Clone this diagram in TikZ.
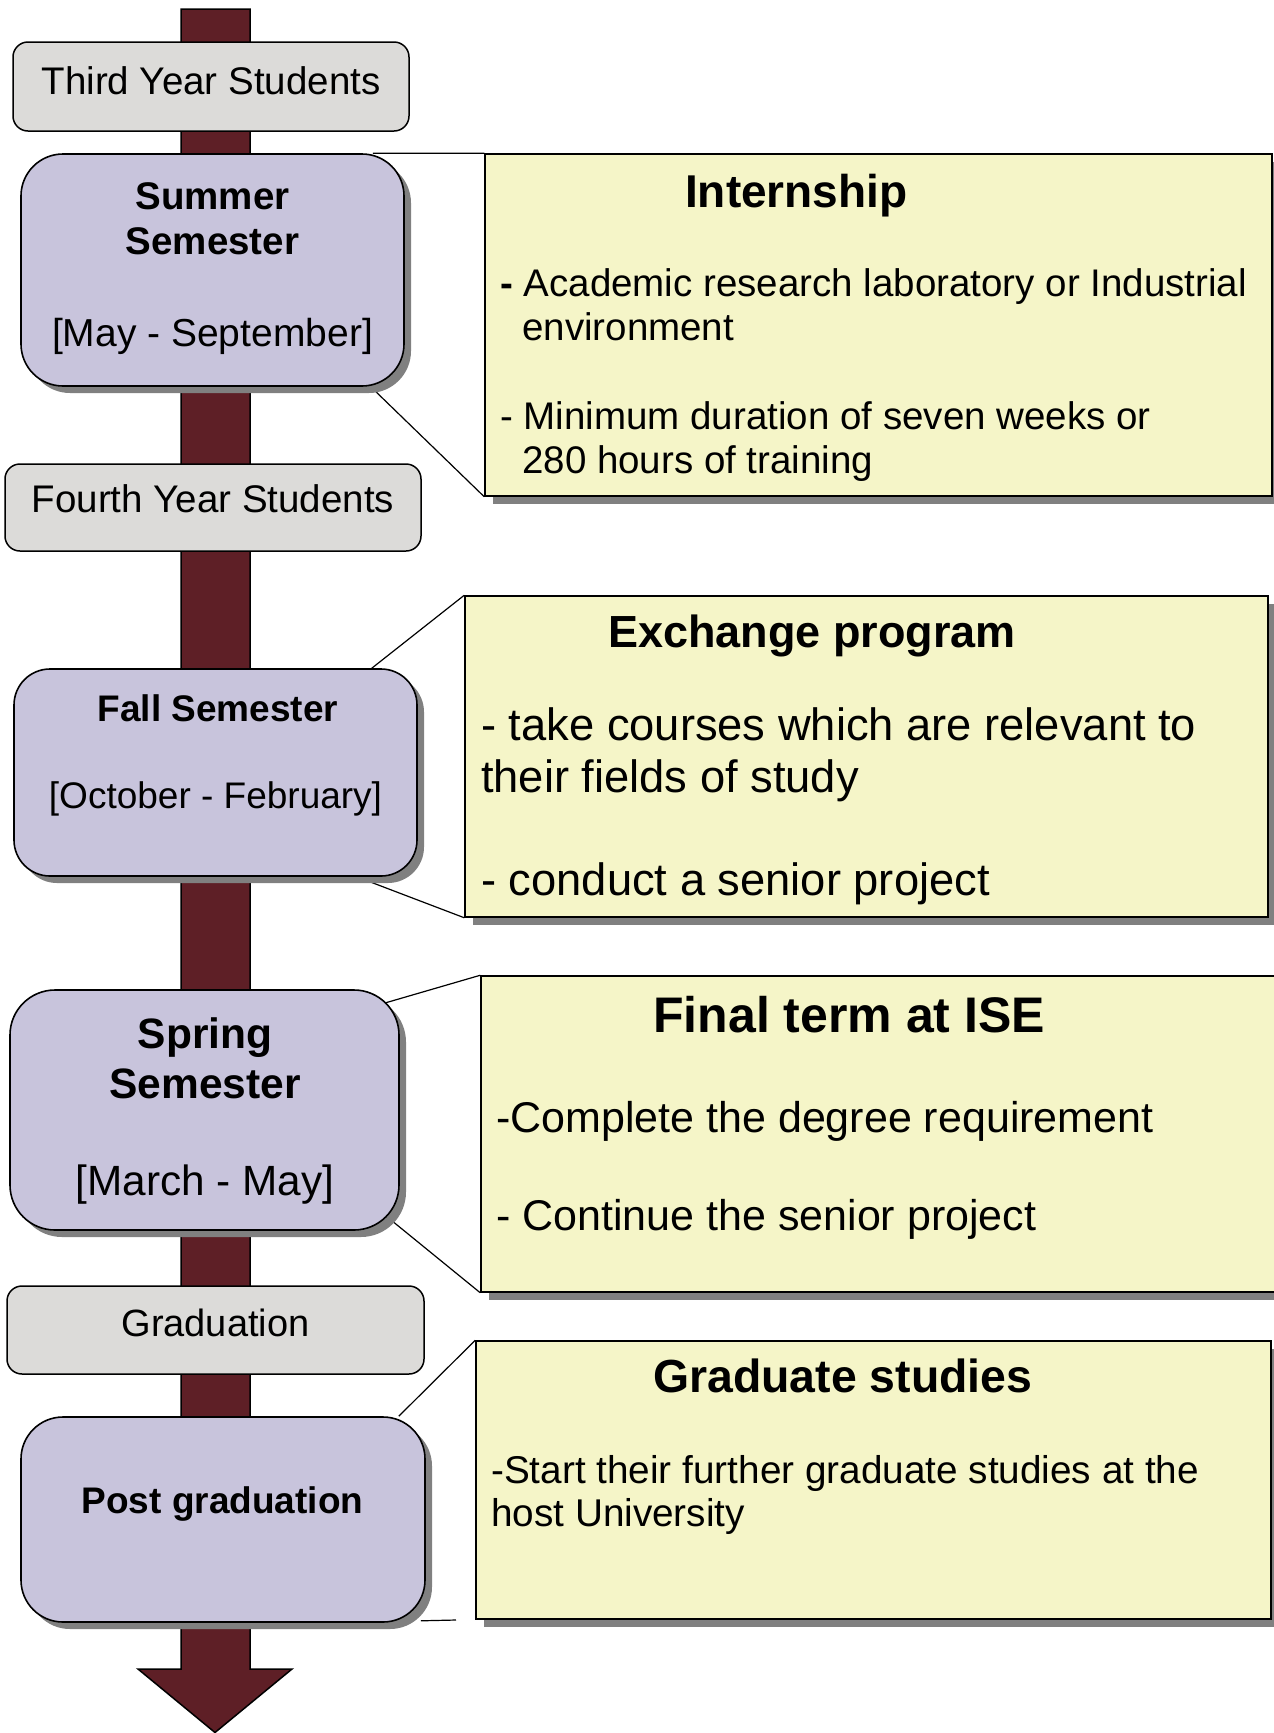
\documentclass[tikz,border=0pt]{standalone}
\usepackage{fontspec}
\setmainfont{Liberation Sans}
\usetikzlibrary{shadows,calc}
\pgfdeclarelayer{background}
\pgfsetlayers{background,main}
\definecolor{shaftred}{RGB}{94,31,38}
\definecolor{boxgray}{RGB}{220,219,217}
\definecolor{boxpurple}{RGB}{200,196,220}
\definecolor{boxyellow}{RGB}{245,245,200}
\definecolor{shadowgray}{RGB}{128,128,128}
\newcommand{\myfs}[1]{\fontsize{#1pt}{#1pt}\selectfont}
\begin{document}
\begin{tikzpicture}[x=1pt,y=-1pt,
  graybox/.style={draw=black, line width=1.5pt, fill=boxgray, rounded corners=15pt, inner sep=0pt},
  semboxstyle/.style={draw=black, line width=1.6pt, fill=boxpurple, rounded corners=#1, inner sep=0pt,
     drop shadow={shadow xshift=7pt, shadow yshift=-7pt, fill=shadowgray, opacity=1}},
  semboxstyle/.default=42pt,
  notebox/.style={draw=black, line width=1.5pt, fill=boxyellow, inner sep=0pt,
     drop shadow={shadow xshift=8pt, shadow yshift=-8pt, fill=shadowgray, opacity=1}},
  conn/.style={draw=black, line width=1.2pt},
  shaftstyle/.style={draw=black, line width=1.5pt, fill=shaftred},
  lbl/.style={inner sep=0pt, text=black}
]
\useasboundingbox (0,0) rectangle (1274,1733);

% ---- left column boxes ----
\node[graybox, minimum width=396pt, minimum height=89pt] (third) at (211,86.5) {};
\node[semboxstyle=42pt, minimum width=383pt, minimum height=232pt] (summer) at (212.5,270) {};
\node[graybox, minimum width=416pt, minimum height=87pt] (fourth) at (213,507.5) {};
\node[semboxstyle=36pt, minimum width=403pt, minimum height=207pt] (fall) at (215.5,772.5) {};
\node[semboxstyle=45pt, minimum width=389pt, minimum height=240pt] (spring) at (204.5,1110) {};
\node[graybox, minimum width=417pt, minimum height=88pt] (grad) at (215.5,1330) {};
\node[semboxstyle=42pt, minimum width=404pt, minimum height=205pt] (postgrad) at (223,1519.5) {};

% ---- right column boxes ----
\node[notebox, minimum width=787pt, minimum height=342pt] (intern) at (878.5,325) {};
\node[notebox, minimum width=803pt, minimum height=321pt] (exchange) at (866.5,756.5) {};
\node[notebox, minimum width=796pt, minimum height=316pt] (final) at (879,1134) {};
\node[notebox, minimum width=795pt, minimum height=278pt] (gradst) at (873.5,1480) {};

\coordinate (pgend) at (456,1620);

% ---- shaft and connectors behind ----
\begin{pgfonlayer}{background}
\path[shaftstyle] (181,9) -- (250,9) -- (250,1669) -- (292,1669) -- (215,1732.5) -- (138,1669) -- (181,1669) -- cycle;
\draw[conn] ($(summer.north east)+(-32,0)$) -- (intern.north west);
\draw[conn] ($(summer.south east)+(-34,0)$) -- (intern.south west);
\draw[conn] ($(fall.north east)+(-46,0)$) -- (exchange.north west);
\draw[conn] ($(fall.south east)+(-61,0)$) -- (exchange.south west);
\draw[conn] ($(spring.north east)+(-19,15)$) -- (final.north west);
\draw[conn] ($(spring.south east)+(-14,-15)$) -- (final.south west);
\draw[conn] ($(postgrad.north east)+(-27,0)$) -- (gradst.north west);
\draw[conn] ($(postgrad.south east)+(-5,-2)$) -- (pgend);
\end{pgfonlayer}

% ---- left texts ----
\node[lbl, anchor=base] (t-third) at (211,94) {\myfs{38.5}Third Year Students};
\node[lbl, anchor=base] (t-sum1) at (212.5,209) {\myfs{38.5}\bfseries Summer};
\node[lbl, anchor=base] (t-sum2) at (212.5,254) {\myfs{38.5}\bfseries Semester};
\node[lbl, anchor=base] (t-sum3) at (212.5,346) {\myfs{39}[May - September]};
\node[lbl, anchor=base] (t-fourth) at (213,512) {\myfs{38.5}Fourth Year Students};
\node[lbl, anchor=base] (t-fall1) at (218,721) {\myfs{37}\bfseries Fall Semester};
\node[lbl, anchor=base] (t-fall2) at (215.5,808) {\myfs{37}[October - February]};
\node[lbl, anchor=base] (t-spr1) at (205,1048) {\myfs{42.5}\bfseries Spring};
\node[lbl, anchor=base] (t-spr2) at (205,1098) {\myfs{42.5}\bfseries Semester};
\node[lbl, anchor=base] (t-spr3) at (205,1195) {\myfs{42.3}[March - May]};
\node[lbl, anchor=base] (t-grad) at (215.5,1336) {\myfs{38}Graduation};
\node[lbl, anchor=base] (t-post) at (222.5,1513) {\myfs{37}\bfseries Post graduation};

% ---- right texts ----
\node[lbl, anchor=base west] (i-title) at (685,207) {\myfs{46}\bfseries Internship};
\node[lbl, anchor=base west] (i-l1) at (500,296) {\myfs{38.5}\textbf{-} Academic research laboratory or Industrial};
\node[lbl, anchor=base west] (i-l2) at (522,340) {\myfs{38.5}environment};
\node[lbl, anchor=base west] (i-l3) at (500,429) {\myfs{38.5}- Minimum duration of seven weeks or};
\node[lbl, anchor=base west] (i-l4) at (522,473) {\myfs{38.5}280 hours of training};

\node[lbl, anchor=base west] (e-title) at (608,647) {\myfs{45}\bfseries Exchange program};
\node[lbl, anchor=base west] (e-l1) at (481,740) {\myfs{45.3}- take courses which are relevant to};
\node[lbl, anchor=base west] (e-l2) at (481,792) {\myfs{45.3}their fields of study};
\node[lbl, anchor=base west] (e-l3) at (481,895) {\myfs{45.3}- conduct a senior project};

\node[lbl, anchor=base west] (f-title) at (653,1032) {\myfs{50}\bfseries Final term at ISE};
\node[lbl, anchor=base west] (f-l1) at (496,1132) {\myfs{43}-Complete the degree requirement};
\node[lbl, anchor=base west] (f-l2) at (496,1230) {\myfs{43}- Continue the senior project};

\node[lbl, anchor=base west] (g-title) at (653,1392) {\myfs{46.4}\bfseries Graduate studies};
\node[lbl, anchor=base west] (g-l1) at (491,1483) {\myfs{38.7}-Start their further graduate studies at the};
\node[lbl, anchor=base west] (g-l2) at (491,1526) {\myfs{38.7}host University};
\end{tikzpicture}
\end{document}
